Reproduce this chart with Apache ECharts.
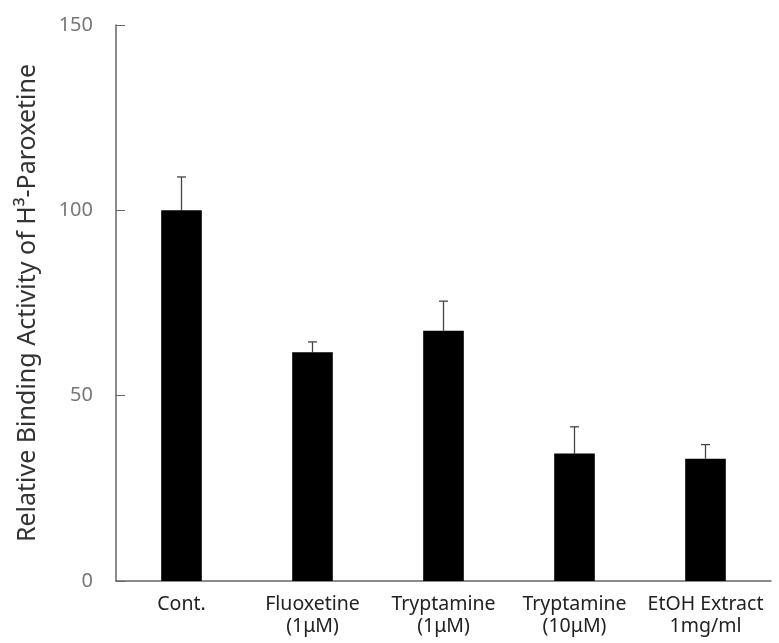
<!DOCTYPE html>
<html><head><meta charset="utf-8">
<script src="https://cdn.jsdelivr.net/npm/echarts@6/dist/echarts.min.js"></script>
<style>html,body{margin:0;padding:0;background:#fff}#c{width:779px;height:643px}</style>
</head><body><div id="c"></div>
<script>
const categories = ['Cont.', 'Fluoxetine\n(1\u03bcM)', 'Tryptamine\n(1\u03bcM)', 'Tryptamine\n(10\u03bcM)', 'EtOH Extract\n1mg/ml'];
const means = [100, 61.7, 67.5, 34.4, 33.0];
const errorTops = [109, 64.5, 75.5, 41.6, 36.8];
const yTicks = [0, 50, 100, 150];

const chart = echarts.init(document.getElementById('c'));
const font = '"Noto Sans", "Open Sans", sans-serif';
chart.setOption({
  animation: false,
  grid: {left: 116, right: 8, top: 25, bottom: 62},
  xAxis: {
    type: 'category', data: categories,
    axisLine: {lineStyle: {color: '#666', width: 1.5}},
    axisTick: {inside: true, length: 6, interval: 0, lineStyle: {color: '#666'}},
    axisLabel: {color: '#222', fontSize: 19.5, fontFamily: font, lineHeight: 22, margin: 12, interval: 0}
  },
  yAxis: {
    type: 'value', min: yTicks[0], max: yTicks[yTicks.length - 1], interval: 50,
    name: 'Relative Binding Activity of H\u00b3-Paroxetine',
    nameLocation: 'middle', nameGap: 76, nameRotate: 90,
    nameTextStyle: {color: '#333', fontSize: 25, fontFamily: font},
    axisLine: {show: true, lineStyle: {color: '#666', width: 1.5}},
    axisTick: {show: true, inside: true, length: 9, lineStyle: {color: '#666'}},
    splitLine: {show: false},
    axisLabel: {color: '#777', fontSize: 20, fontFamily: font, margin: 23}
  },
  series: [
    {
      type: 'bar', data: means, barWidth: '31%',
      itemStyle: {color: '#000'}, z: 2
    },
    {
      type: 'custom', z: 1,
      data: means.map((m, i) => [i, m, errorTops[i]]),
      renderItem: function (params, api) {
        const p0 = api.coord([api.value(0), api.value(1)]);
        const p1 = api.coord([api.value(0), api.value(2)]);
        const hw = 4.5;
        const st = {stroke: '#444', lineWidth: 1.3};
        return {type: 'group', children: [
          {type: 'line', shape: {x1: p0[0], y1: p0[1], x2: p1[0], y2: p1[1]}, style: st},
          {type: 'line', shape: {x1: p1[0] - hw, y1: p1[1], x2: p1[0] + hw, y2: p1[1]}, style: st}
        ]};
      }
    }
  ]
});
</script></body></html>
